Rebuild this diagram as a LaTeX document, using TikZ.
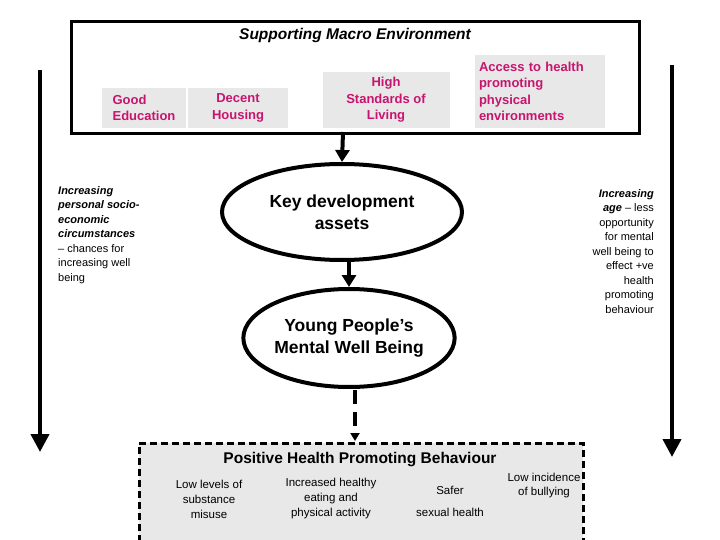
\documentclass[tikz,border=0pt]{standalone}
\usepackage{fontspec}
\setmainfont{Liberation Sans}
\usetikzlibrary{shapes.geometric,arrows.meta}
\definecolor{pink}{RGB}{200,20,110}
\definecolor{boxg}{RGB}{232,232,232}
\begin{document}
\begin{tikzpicture}[x=1pt,y=-1pt,
  gbox/.style={fill=boxg,text=pink,font=\fontsize{13}{16.5}\selectfont\bfseries,align=center,inner sep=2pt},
  big/.style={-{Triangle[length=18pt,width=18pt]},line width=4pt},
  mid/.style={-{Triangle[length=12pt,width=14pt]},line width=4pt},
  ell/.style={ellipse,draw,line width=4pt,fill=white,font=\fontsize{17.5}{22}\selectfont\bfseries,align=center,inner sep=0pt},
  small/.style={font=\fontsize{11.5}{15}\selectfont,align=center}]
\useasboundingbox (0,0) rectangle (720,540);
\node[draw,line width=3pt,minimum width=568pt,minimum height=112pt,anchor=north west,inner sep=0pt] (top) at (70,20) {};
\node[font=\fontsize{15.5}{18}\selectfont\bfseries\itshape] (title) at (355,35) {Supporting Macro Environment};
\node[gbox,minimum width=84pt,minimum height=40pt,align=left] (edu) at (144,108) {Good\\Education};
\node[gbox,minimum width=100pt,minimum height=40pt] (hou) at (238,108) {Decent\\Housing};
\node[gbox,minimum width=127pt,minimum height=56pt] (liv) at (386,100) {High\\Standards of\\Living};
\node[gbox,minimum width=130pt,minimum height=73pt,align=left,text width=122pt] (acc) at (540,91.5) {Access to health\\promoting\\physical\\environments};
\node[ell,minimum width=240pt,minimum height=96pt] (key) at (342,212) {Key development\\assets};
\node[ell,minimum width=184pt,minimum height=98pt] (ypm) at (349,338) {Young People’s\\Mental Well Being};
\node[draw,line width=2.5pt,dash pattern=on 7pt off 4pt,fill=boxg,minimum width=444pt,minimum height=98pt,anchor=north west,inner sep=0pt] (phb) at (138,442) {};
\node[font=\fontsize{15.5}{18}\selectfont\bfseries] (phbt) at (360,460) {Positive Health Promoting Behaviour};
\node[small] (b1) at (209,499) {Low levels of\\substance\\misuse};
\node[small] (b2) at (331,499) {Increased healthy\\eating and\\physical activity};
\node[small] (b3a) at (450,490) {Safer};
\node[small] (b3b) at (450,512) {sexual health};
\node[small,font=\fontsize{11.5}{14}\selectfont] (b4) at (544,486) {Low incidence\\of bullying};
\coordinate (a1) at (343,132);
\draw[mid] (a1) -- (key.north);
\coordinate (a2) at (349,260);
\draw[mid] (a2) -- (ypm.north);
\coordinate (a3) at (355,390);
\draw[line width=4pt,dash pattern=on 14pt off 8pt,-{Triangle[length=8pt,width=9pt]}] (a3) -- (355,441);
\coordinate (l1) at (40,70); \coordinate (l2) at (40,452);
\draw[big] (l1) -- (l2);
\coordinate (r1) at (672,65); \coordinate (r2) at (672,457);
\draw[big] (r1) -- (r2);
\node[anchor=north west,align=left,font=\fontsize{11}{14.5}\selectfont,inner sep=0pt] (lt) at (58,186) {\textbf{\textit{Increasing}}\\\textbf{\textit{personal socio-}}\\\textbf{\textit{economic}}\\\textbf{\textit{circumstances}}\\– chances for\\increasing well\\being};
\node[anchor=north east,align=right,font=\fontsize{11}{14.5}\selectfont,inner sep=0pt] (rt) at (654,189) {\textbf{\textit{Increasing}}\\\textbf{\textit{age}} – less\\opportunity\\for mental\\well being to\\effect +ve\\health\\promoting\\behaviour};
\end{tikzpicture}
\end{document}
